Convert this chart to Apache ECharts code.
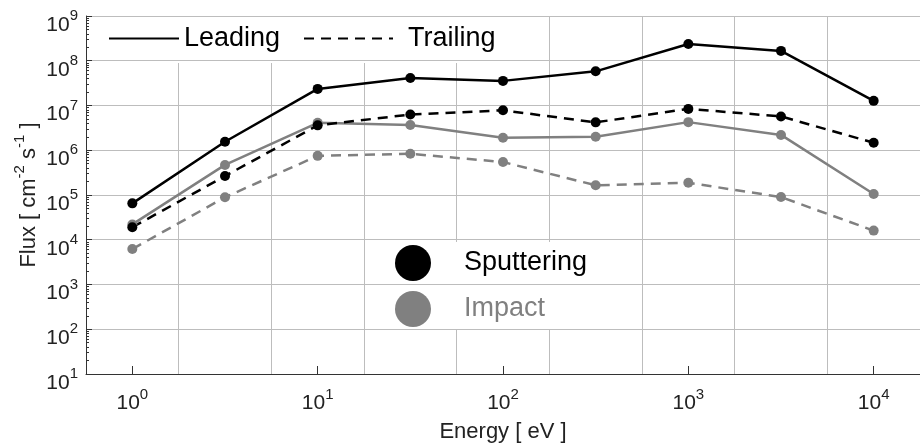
<!DOCTYPE html>
<html>
<head>
<meta charset="utf-8">
<script src="https://cdn.jsdelivr.net/npm/echarts@6/dist/echarts.min.js"></script>
<style>
html,body{margin:0;padding:0;background:#fff;}
#c{width:920px;height:443px;}
</style>
</head>
<body>
<div id="c"></div>
<script>
// ---- data ----
const energies = [1, 3.162, 10, 31.62, 100, 316.2, 1000, 3162, 10000];
const leadingSputtering  = [6.5e4, 1.55e6, 2.35e7, 4.1e7, 3.55e7, 5.8e7, 2.37e8, 1.66e8, 1.27e7];
const trailingSputtering = [1.9e4, 2.65e5, 3.6e6, 6.3e6, 7.8e6, 4.2e6, 8.4e6, 5.7e6, 1.47e6];
const leadingImpact      = [2.2e4, 4.7e5, 4.1e6, 3.65e6, 1.9e6, 2.0e6, 4.25e6, 2.2e6, 1.05e5];
const trailingImpact     = [6.2e3, 8.9e4, 7.5e5, 8.35e5, 5.45e5, 1.65e5, 1.88e5, 9.0e4, 1.6e4];
const xTickValues = [1, 10, 100, 1000, 10000];
const yMinorTicks = [];
for (let k = 1; k <= 8; k++) for (let m = 2; m <= 9; m++) yMinorTicks.push(m * Math.pow(10, k));

const FONT = "'Liberation Sans', Arial, sans-serif";
const BLACK = '#000000';
const GREY = '#808080';
const AXIS = '#333333';
const GRID = '#bdbdbd';
const TXT = '#222222';

function pairs(vals) { return energies.map((e, i) => [e, vals[i]]); }

const powRich = {
  b: {fontSize: 21, lineHeight: 21, padding: [9, 0, 0, 0], verticalAlign: 'top', color: TXT, fontFamily: FONT},
  s: {fontSize: 15, lineHeight: 15, padding: [3, 0, 0, 0], verticalAlign: 'top', color: TXT, fontFamily: FONT}
};
function powFmt(v) { return '{b|10}{s|' + Math.round(Math.log10(v)) + '}'; }

function mkSeries(name, vals, color, dashed) {
  return {
    name: name, type: 'line', data: pairs(vals), z: 5,
    symbol: 'circle', symbolSize: 10,
    itemStyle: {color: color, opacity: 1},
    lineStyle: {color: color, width: 2.5, type: dashed ? [10, 7] : 'solid'},
    emphasis: {disabled: true}
  };
}

const chart = echarts.init(document.getElementById('c'), null, {renderer: 'canvas'});
chart.setOption({
  animation: false,
  backgroundColor: '#fff',
  textStyle: {fontFamily: FONT},
  grid: {left: 86, right: 0, top: 16, bottom: 69, containLabel: false, outerBoundsMode: 'none'},
  xAxis: [
    {
      type: 'log', min: Math.pow(10, -0.25), max: Math.pow(10, 4.25), z: 4,
      name: 'Energy [ eV ]', nameLocation: 'middle', nameGap: 47,
      nameTextStyle: {fontSize: 22, color: TXT, fontFamily: FONT},
      axisLine: {show: true, onZero: false, lineStyle: {color: AXIS, width: 1}},
      axisTick: {show: true, inside: true, length: 8, customValues: xTickValues, lineStyle: {color: AXIS}},
      axisLabel: {show: true, margin: 10, customValues: xTickValues, formatter: powFmt, rich: powRich},
      splitLine: {show: false}, minorTick: {show: false}
    },
    {
      type: 'value', min: -0.25, max: 4.25, interval: 0.5, z: 0,
      position: 'bottom',
      axisLine: {show: false, onZero: false}, axisTick: {show: false}, axisLabel: {show: false},
      splitLine: {show: true, lineStyle: {color: GRID, width: 1}}
    }
  ],
  yAxis: [
    {
      type: 'log', min: 10, max: 1e9, z: 4,
      name: '{t|Flux [ cm}{s|-2}{t| s}{s|-1}{t| ]}', nameLocation: 'middle', nameGap: 55,
      nameMoveOverlap: false,
      nameTextStyle: {
        fontFamily: FONT, color: TXT,
        rich: {
          t: {fontSize: 22, lineHeight: 22, padding: [9, 0, 0, 0], verticalAlign: 'top', color: TXT, fontFamily: FONT},
          s: {fontSize: 15, lineHeight: 15, padding: [3, 0, 0, 0], verticalAlign: 'top', color: TXT, fontFamily: FONT}
        }
      },
      axisLine: {show: true, onZero: false, lineStyle: {color: AXIS, width: 1}},
      axisTick: {show: true, inside: true, length: 6, lineStyle: {color: AXIS}},
      axisLabel: {show: true, margin: 8, formatter: powFmt, rich: powRich},
      splitLine: {show: true, lineStyle: {color: GRID, width: 1}}
    },
    {
      type: 'log', min: 10, max: 1e9, z: 4, position: 'left',
      axisLine: {show: false, onZero: false},
      axisTick: {show: true, inside: true, length: 3, customValues: yMinorTicks, lineStyle: {color: AXIS}},
      axisLabel: {show: false},
      splitLine: {show: false}
    }
  ],
  legend: [
    {
      data: ['Leading'], left: 86, top: 16, padding: [9, 229, 11, 22],
      backgroundColor: '#ffffff', z: 3, selectedMode: false,
      itemWidth: 70, itemHeight: 20, itemStyle: {opacity: 0},
      textStyle: {fontSize: 27, lineHeight: 24, color: '#000', fontFamily: FONT}
    },
    {
      data: ['Trailing'], left: 303, top: 25, padding: 0, z: 3, selectedMode: false,
      itemWidth: 89, itemHeight: 20, itemStyle: {opacity: 0},
      textStyle: {fontSize: 27, lineHeight: 24, color: '#000', fontFamily: FONT, padding: [0, 0, 0, 10]}
    },
    {
      data: [{name: 'Sputtering'}, {name: 'Impact', textStyle: {color: GREY}}],
      orient: 'vertical', left: 395, top: 242, padding: [3, 8, 3, 0],
      backgroundColor: '#ffffff', z: 3, selectedMode: false,
      icon: 'circle', itemWidth: 92, itemHeight: 36, itemGap: 10,
      textStyle: {fontSize: 27, color: '#000', fontFamily: FONT}
    }
  ],
  series: [
    mkSeries('Trailing Impact', trailingImpact, GREY, true),
    mkSeries('Leading Impact', leadingImpact, GREY, false),
    mkSeries('Trailing', trailingSputtering, BLACK, true),
    mkSeries('Leading', leadingSputtering, BLACK, false),
    {name: 'Sputtering', type: 'scatter', data: [], itemStyle: {color: BLACK, opacity: 1}},
    {name: 'Impact', type: 'scatter', data: [], itemStyle: {color: GREY, opacity: 1}}
  ]
});
</script>
</body>
</html>
